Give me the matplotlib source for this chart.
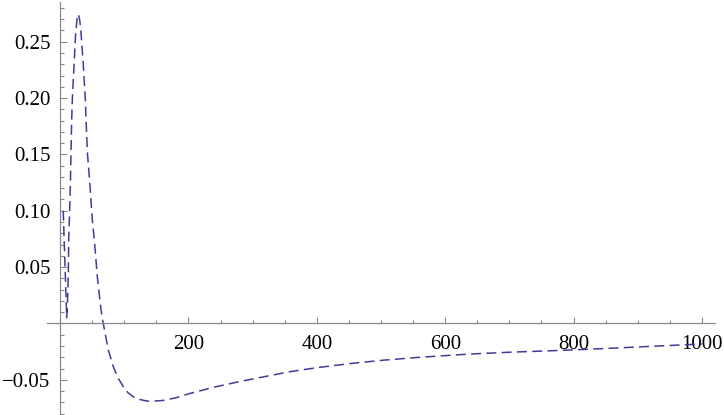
import matplotlib
matplotlib.use("Agg")
import matplotlib.pyplot as plt
from matplotlib.ticker import FixedLocator, FixedFormatter

# Data
x_vals = [5, 7, 9, 10.4, 11.4, 13, 13.5, 14.5, 16.1, 17.1, 18.2, 19.2, 21.8, 24.4,
          26.5, 28.5, 30.5, 32.7, 36.3, 39.4, 40.5, 42.6, 46.7, 50.3, 53.5, 58.1,
          61.2, 64.9, 67.4, 70, 75, 83, 90, 98.6, 106, 114, 125, 135, 143, 160,
          180, 203, 240, 280, 320, 358, 400, 450, 503, 560, 633, 700, 775, 850,
          920, 1000]
y_vals = [0.100, 0.065, 0.030, 0.005, 0.015, 0.045, 0.074, 0.092, 0.122, 0.152,
          0.1815, 0.199, 0.229, 0.258, 0.270, 0.2745, 0.270, 0.258, 0.229, 0.199,
          0.1815, 0.152, 0.122, 0.092, 0.074, 0.0415, 0.0253, 0.0075, 0.0, -0.008,
          -0.023, -0.0383, -0.048, -0.056, -0.0615, -0.065, -0.0675, -0.0688, -0.069,
          -0.0683, -0.066, -0.062, -0.0565, -0.0515, -0.047, -0.0428, -0.0392,
          -0.0357, -0.0326, -0.030, -0.0273, -0.0255, -0.024, -0.0222, -0.0203, -0.0182]

x_major = [200, 400, 600, 800, 1000]
x_labels = ["200", "400", "600", "800", "1000"]
x_minor = [50, 100, 150, 250, 300, 350, 450, 500, 550, 650, 700, 750, 850, 900, 950]
y_major = [-0.05, 0.05, 0.10, 0.15, 0.20, 0.25]
y_labels = ["\u22120.05", "0.05", "0.10", "0.15", "0.20", "0.25"]
y_minor = [-0.08, -0.07, -0.06, -0.04, -0.03, -0.02, -0.01, 0.01, 0.02, 0.03, 0.04,
           0.06, 0.07, 0.08, 0.09, 0.11, 0.12, 0.13, 0.14, 0.16, 0.17, 0.18, 0.19,
           0.21, 0.22, 0.23, 0.24, 0.26, 0.27, 0.28]

plt.rcParams['font.family'] = ['Liberation Serif', 'DejaVu Serif']
plt.rcParams['lines.scale_dashes'] = False

fig = plt.figure(figsize=(7.24, 4.15), dpi=100)
ax = fig.add_axes([0, 0, 1, 1])
ax.set_xlim(-93.5, 1034.3)
ax.set_ylim(-0.0812, 0.2870)

ax.plot(x_vals, y_vals, color='#3d3d99', lw=1.1, dashes=(7.2, 3.8))

axis_col = '#8a8a8a'
for s in ['top', 'right']:
    ax.spines[s].set_visible(False)
ax.spines['left'].set_position(('data', 0))
ax.spines['bottom'].set_position(('data', 0))
ax.spines['left'].set_bounds(-0.0812, 0.285)
ax.spines['bottom'].set_bounds(-21, 1021)
for s in ['left', 'bottom']:
    ax.spines[s].set_color(axis_col)
    ax.spines[s].set_linewidth(0.9)

ax.xaxis.set_major_locator(FixedLocator(x_major))
ax.xaxis.set_major_formatter(FixedFormatter(x_labels))
ax.xaxis.set_minor_locator(FixedLocator(x_minor))
ax.yaxis.set_major_locator(FixedLocator(y_major))
ax.yaxis.set_major_formatter(FixedFormatter(y_labels))
ax.yaxis.set_minor_locator(FixedLocator(y_minor))

ax.tick_params(axis='both', which='both', direction='in', color=axis_col,
               labelcolor='black', labelsize=15, width=0.8)
ax.tick_params(axis='x', which='major', length=4.5, pad=8)
ax.tick_params(axis='x', which='minor', length=2.5)
ax.tick_params(axis='y', which='major', length=5, pad=7)
ax.tick_params(axis='y', which='minor', length=3)
ax.patch.set_alpha(0)

fig.savefig('out.png', dpi=100)
